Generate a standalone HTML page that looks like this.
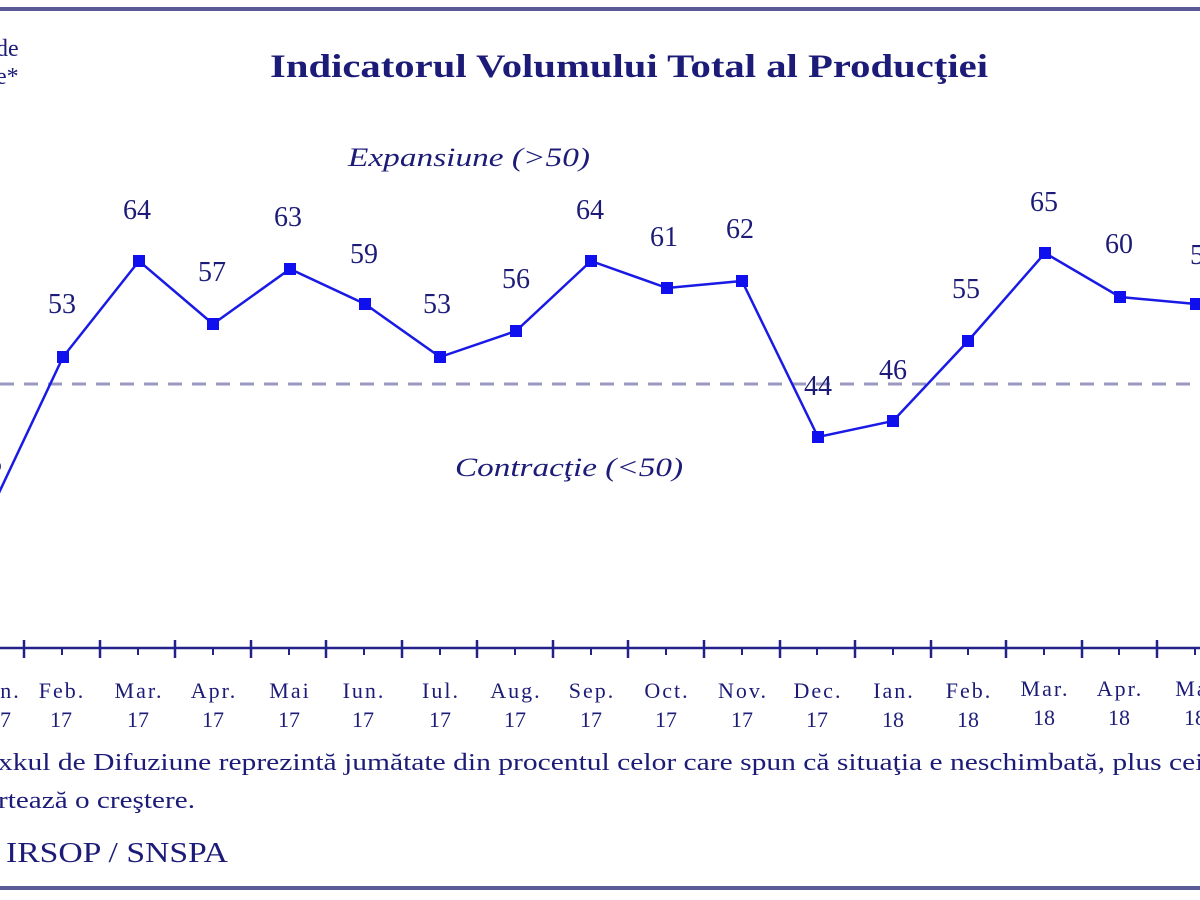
<!DOCTYPE html>
<html><head><meta charset="utf-8"><style>
html,body{margin:0;padding:0;background:#fff;width:1200px;height:900px;overflow:hidden}
svg text{font-family:"Liberation Serif",serif;fill:#1c1c78}
.m{letter-spacing:2px}
</style></head><body>
<svg width="1200" height="900" viewBox="0 0 1200 900" xmlns="http://www.w3.org/2000/svg">
<rect x="0" y="7" width="1200" height="4" fill="#5a5a96"/>
<rect x="0" y="886" width="1200" height="4" fill="#5a5a96"/>
<text x="270" y="77" font-size="33" font-weight="bold" textLength="718" lengthAdjust="spacingAndGlyphs">Indicatorul Volumului Total al Producţiei</text>
<text x="-4" y="56" font-size="24">de</text>
<text x="-4" y="84" font-size="24">e*</text>
<text x="348" y="166" font-size="26" font-style="italic" textLength="242" lengthAdjust="spacingAndGlyphs">Expansiune (&gt;50)</text>
<text x="455" y="476" font-size="26" font-style="italic" textLength="228" lengthAdjust="spacingAndGlyphs">Contracţie (&lt;50)</text>
<line x1="0" y1="384" x2="1200" y2="384" stroke="#9a9ac0" stroke-width="3" stroke-dasharray="14,10"/>
<line x1="0" y1="648" x2="1200" y2="648" stroke="#22228a" stroke-width="2.5"/>
<g stroke="#22228a" stroke-width="2.5">
<line x1="24" y1="640" x2="24" y2="658"/><line x1="100" y1="640" x2="100" y2="658"/><line x1="175" y1="640" x2="175" y2="658"/><line x1="251" y1="640" x2="251" y2="658"/><line x1="326" y1="640" x2="326" y2="658"/><line x1="402" y1="640" x2="402" y2="658"/><line x1="477" y1="640" x2="477" y2="658"/><line x1="553" y1="640" x2="553" y2="658"/><line x1="628" y1="640" x2="628" y2="658"/><line x1="704" y1="640" x2="704" y2="658"/><line x1="780" y1="640" x2="780" y2="658"/><line x1="855" y1="640" x2="855" y2="658"/><line x1="931" y1="640" x2="931" y2="658"/><line x1="1006" y1="640" x2="1006" y2="658"/><line x1="1082" y1="640" x2="1082" y2="658"/><line x1="1157" y1="640" x2="1157" y2="658"/>
</g>
<g stroke="#22228a" stroke-width="2">
<line x1="62" y1="648" x2="62" y2="655"/><line x1="138" y1="648" x2="138" y2="655"/><line x1="213" y1="648" x2="213" y2="655"/><line x1="289" y1="648" x2="289" y2="655"/><line x1="364" y1="648" x2="364" y2="655"/><line x1="440" y1="648" x2="440" y2="655"/><line x1="515" y1="648" x2="515" y2="655"/><line x1="591" y1="648" x2="591" y2="655"/><line x1="666" y1="648" x2="666" y2="655"/><line x1="742" y1="648" x2="742" y2="655"/><line x1="817" y1="648" x2="817" y2="655"/><line x1="893" y1="648" x2="893" y2="655"/><line x1="968" y1="648" x2="968" y2="655"/><line x1="1044" y1="648" x2="1044" y2="655"/><line x1="1119" y1="648" x2="1119" y2="655"/><line x1="1195" y1="648" x2="1195" y2="655"/>
</g>
<polyline fill="none" stroke="#1a1ae6" stroke-width="2.5" points="-12,516 63,357 139,261 213,324 290,269 365,304 440,357 516,331 591,261 667,288 742,281 818,437 893,421 968,341 1045,253 1120,297 1196,304"/>
<g fill="#1010ee">
<rect x="57" y="351" width="12" height="12"/><rect x="133" y="255" width="12" height="12"/><rect x="207" y="318" width="12" height="12"/><rect x="284" y="263" width="12" height="12"/><rect x="359" y="298" width="12" height="12"/><rect x="434" y="351" width="12" height="12"/><rect x="510" y="325" width="12" height="12"/><rect x="585" y="255" width="12" height="12"/><rect x="661" y="282" width="12" height="12"/><rect x="736" y="275" width="12" height="12"/><rect x="812" y="431" width="12" height="12"/><rect x="887" y="415" width="12" height="12"/><rect x="962" y="335" width="12" height="12"/><rect x="1039" y="247" width="12" height="12"/><rect x="1114" y="291" width="12" height="12"/><rect x="1190" y="298" width="12" height="12"/>
</g>
<g font-size="28" text-anchor="middle">
<text x="-12" y="472">35</text><text x="62" y="313">53</text><text x="137" y="219">64</text><text x="212" y="281">57</text><text x="288" y="226">63</text><text x="364" y="263">59</text><text x="437" y="313">53</text><text x="516" y="288">56</text><text x="590" y="219">64</text><text x="664" y="246">61</text><text x="740" y="238">62</text><text x="818" y="395">44</text><text x="893" y="379">46</text><text x="966" y="298">55</text><text x="1044" y="211">65</text><text x="1119" y="253">60</text><text x="1204" y="264">59</text>
</g>
<g font-size="22" text-anchor="middle">
<g class="m">
<text x="0" y="698">Ian.</text><text x="62" y="698">Feb.</text><text x="139" y="698">Mar.</text><text x="214" y="698">Apr.</text><text x="290" y="698">Mai</text><text x="364" y="698">Iun.</text><text x="441" y="698">Iul.</text><text x="516" y="698">Aug.</text><text x="592" y="698">Sep.</text><text x="667" y="698">Oct.</text><text x="743" y="698">Nov.</text><text x="818" y="698">Dec.</text><text x="894" y="698">Ian.</text><text x="969" y="698">Feb.</text><text x="1045" y="696">Mar.</text><text x="1120" y="696">Apr.</text><text x="1196" y="696">Mai</text>
</g>
<text x="0" y="727">17</text><text x="61" y="727">17</text><text x="138" y="727">17</text><text x="213" y="727">17</text><text x="289" y="727">17</text><text x="363" y="727">17</text><text x="440" y="727">17</text><text x="515" y="727">17</text><text x="591" y="727">17</text><text x="666" y="727">17</text><text x="742" y="727">17</text><text x="817" y="727">17</text><text x="893" y="727">18</text><text x="968" y="727">18</text><text x="1044" y="725">18</text><text x="1119" y="725">18</text><text x="1195" y="725">18</text>
</g>
<text x="-2" y="770" font-size="24" textLength="1262" lengthAdjust="spacingAndGlyphs">xkul de Difuziune reprezintă jumătate din procentul celor care spun că situaţia e neschimbată, plus cei care</text>
<text x="-2" y="808" font-size="24" textLength="197" lengthAdjust="spacingAndGlyphs">rtează o creştere.</text>
<text x="6" y="862" font-size="28" textLength="222" lengthAdjust="spacingAndGlyphs">IRSOP / SNSPA</text>
</svg>
</body></html>
